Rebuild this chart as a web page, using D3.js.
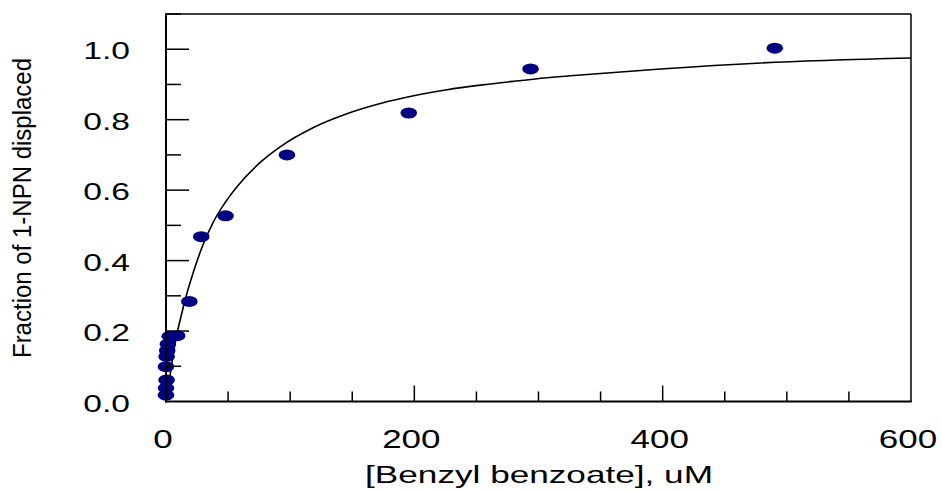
<!DOCTYPE html>
<html>
<head>
<meta charset="utf-8">
<script src="https://cdn.jsdelivr.net/npm/d3@7"></script>
<style>
  body { margin: 0; background: #fff; }
  text { font-family: "Liberation Sans", Arial, sans-serif; fill: #000; }
</style>
</head>
<body>
<div id="chart"></div>
<script>
const width = 942;
const height = 490;

// measured points (concentration uM, fraction displaced)
const concX = [0, 0, 0.5, 0, 0.5, 1, 1.5, 3, 9, 18.8, 28.4, 48, 97.4, 195.5, 293.6, 490.3];
const fracY = [0.018, 0.038, 0.061, 0.099, 0.128, 0.145, 0.163, 0.185, 0.187, 0.284, 0.468, 0.527, 0.700, 0.819, 0.944, 1.003];

// fitted curve
const fitX = [0, 1, 2, 3.2, 4.6, 7.3, 11.3, 16.7, 23.4, 29.8, 37.9, 46, 57, 75, 91.9, 118.8, 145.7, 172.6, 199.4, 226.4, 253.2, 280.1, 307, 333.9, 398.4, 479, 600];
const fitY = [0, 0.025, 0.05, 0.072, 0.106, 0.166, 0.230, 0.305, 0.382, 0.445, 0.508, 0.556, 0.609, 0.676, 0.723, 0.778, 0.817, 0.846, 0.868, 0.885, 0.898, 0.909, 0.919, 0.927, 0.944, 0.961, 0.975];

const xMajor = [0, 200, 400, 600];
const xMinor = [50, 100, 150, 250, 300, 350, 450, 500, 550];
const yMajor = [0, 0.2, 0.4, 0.6, 0.8, 1.0];
const yMinor = [0.1, 0.3, 0.5, 0.7, 0.9, 1.1];

const x = d3.scaleLinear().domain([0, 600]).range([166, 911]);
const y = d3.scaleLinear().domain([0, 1.1]).range([401.5, 14]);

const svg = d3.select("#chart")
    .append("svg")
    .attr("width", width)
    .attr("height", height);

// stretched text helper (the original lettering is wide)
function label(g, str, px, py, size, sx, anchor, rot) {
    const t = g.append("g")
        .attr("transform", `translate(${px},${py})` + (rot ? ` rotate(${rot})` : "") + ` scale(${sx},1)`)
        .append("text")
        .attr("font-size", size)
        .attr("text-anchor", anchor)
        .text(str);
    return t;
}

// curve
const line = d3.line()
    .x((d, i) => x(fitX[i]))
    .y((d, i) => y(fitY[i]))
    .curve(d3.curveMonotoneX);

svg.append("path")
    .datum(fitX)
    .attr("d", line)
    .attr("fill", "none")
    .attr("stroke", "#000")
    .attr("stroke-width", 1.6);

// points
svg.append("g")
    .selectAll("ellipse")
    .data(concX)
    .join("ellipse")
    .attr("cx", (d, i) => x(d))
    .attr("cy", (d, i) => y(fracY[i]))
    .attr("rx", 8.3)
    .attr("ry", 5.5)
    .attr("fill", "#000080");

// frame
const axes = svg.append("g").attr("stroke", "#000");
axes.append("line").attr("x1", x(0)).attr("x2", x(600)).attr("y1", y(1.1)).attr("y2", y(1.1)).attr("stroke-width", 1.5);
axes.append("line").attr("x1", x(600)).attr("x2", x(600)).attr("y1", y(1.1)).attr("y2", y(0)).attr("stroke-width", 1.5);
axes.append("line").attr("x1", x(0)).attr("x2", x(0)).attr("y1", y(1.1) - 0.75).attr("y2", y(0) + 1).attr("stroke-width", 2);
axes.append("line").attr("x1", x(0) - 1).attr("x2", x(600) + 0.75).attr("y1", y(0)).attr("y2", y(0)).attr("stroke-width", 2);

// inward ticks
axes.selectAll(".xmaj").data(xMajor.slice(1, 3)).join("line")
    .attr("x1", d => x(d)).attr("x2", d => x(d))
    .attr("y1", y(0)).attr("y2", y(0) - 16).attr("stroke-width", 1.5);
axes.selectAll(".xmin").data(xMinor).join("line")
    .attr("x1", d => x(d)).attr("x2", d => x(d))
    .attr("y1", y(0)).attr("y2", y(0) - 10).attr("stroke-width", 1.5);
axes.selectAll(".ymaj").data(yMajor.slice(1)).join("line")
    .attr("x1", x(0)).attr("x2", x(0) + 23)
    .attr("y1", d => y(d)).attr("y2", d => y(d)).attr("stroke-width", 1.5);
axes.selectAll(".ymin").data(yMinor).join("line")
    .attr("x1", x(0)).attr("x2", x(0) + 15)
    .attr("y1", d => y(d)).attr("y2", d => y(d)).attr("stroke-width", 1.5);

// tick labels
const labels = svg.append("g");
xMajor.forEach(v => label(labels, d3.format("d")(v), x(v) - 3, 448, 25, 1.4, "middle"));
yMajor.forEach(v => label(labels, d3.format(".1f")(v), 130, y(v) + 10, 24, 1.4, "end"));

// axis titles
label(labels, "[Benzyl benzoate], uM", 539, 483, 24, 1.465, "middle");
label(labels, "Fraction of 1-NPN displaced", 31, 208, 25, 0.96, "middle", -90);
</script>
</body>
</html>
